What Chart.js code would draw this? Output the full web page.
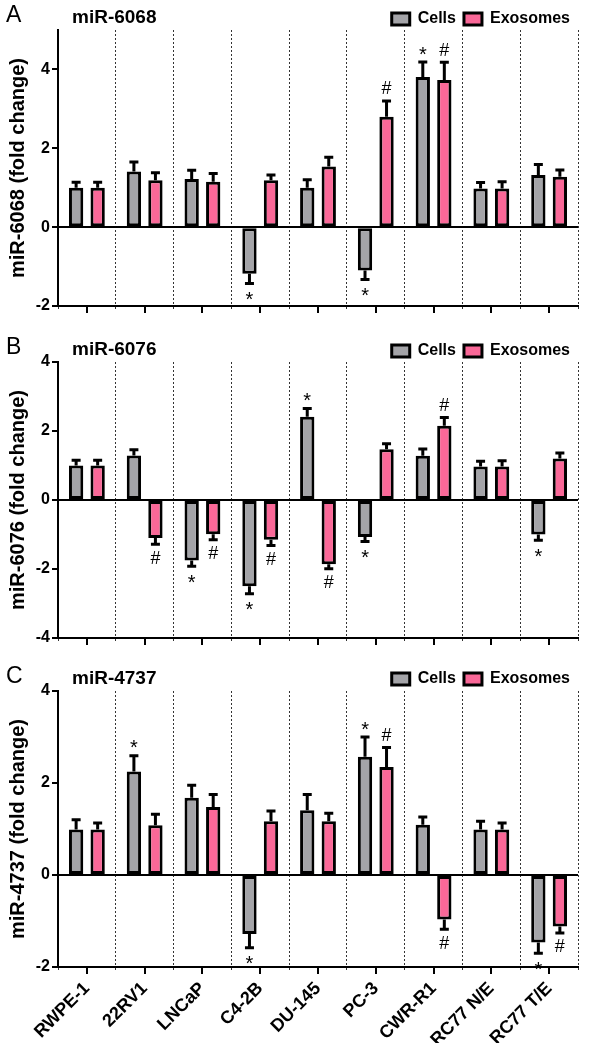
<!DOCTYPE html>
<html>
<head>
<meta charset="utf-8">
<script src="https://cdn.jsdelivr.net/npm/chart.js@4.4.1/dist/chart.umd.min.js"></script>
<style>
  body { margin: 0; background: #fff; }
  .panel { position: absolute; left: 0; width: 589px; }
</style>
</head>
<body>
<div class="panel" style="top:0;height:320px"><canvas id="chartA"></canvas></div>
<div class="panel" style="top:320px;height:330px"><canvas id="chartB"></canvas></div>
<div class="panel" style="top:650px;height:393px"><canvas id="chartC"></canvas></div>
<script>
var cellLines = ['RWPE-1', '22RV1', 'LNCaP', 'C4-2B', 'DU-145', 'PC-3', 'CWR-R1', 'RC77 N/E', 'RC77 T/E'];

// miR-6068
var cells6068 = [1.0, 1.41, 1.22, -1.18, 1.0, -1.10, 3.81, 0.98, 1.32];
var cells6068Err = [0.14, 0.24, 0.22, 0.25, 0.2, 0.23, 0.38, 0.15, 0.27];
var exo6068 = [1.0, 1.19, 1.15, 1.19, 1.54, 2.80, 3.73, 0.98, 1.28];
var exo6068Err = [0.14, 0.19, 0.21, 0.13, 0.23, 0.4, 0.45, 0.17, 0.17];
var cellMarks6068 = ['', '', '', '*', '', '*', '*', '', ''];
var exoMarks6068 = ['', '', '', '', '', '#', '#', '', ''];
var ticks6068 = [-2, 0, 2, 4];

// miR-6076
var cells6076 = [1.0, 1.29, -1.75, -2.50, 2.41, -1.07, 1.28, 0.97, -1.0];
var cells6076Err = [0.15, 0.17, 0.17, 0.22, 0.24, 0.13, 0.2, 0.15, 0.17];
var exo6076 = [1.0, -1.10, -0.99, -1.15, -1.86, 1.47, 2.15, 0.97, 1.2];
var exo6076Err = [0.15, 0.18, 0.16, 0.17, 0.13, 0.16, 0.24, 0.17, 0.16];
var cellMarks6076 = ['', '', '*', '*', '*', '*', '', '', '*'];
var exoMarks6076 = ['', '#', '#', '#', '#', '', '#', '', ''];
var ticks6076 = [-4, -2, 0, 2, 4];

// miR-4737
var cells4737 = [0.99, 2.25, 1.68, -1.28, 1.41, 2.57, 1.09, 0.99, -1.47];
var cells4737Err = [0.21, 0.34, 0.27, 0.30, 0.34, 0.43, 0.17, 0.18, 0.23];
var exo4737 = [0.99, 1.08, 1.48, 1.17, 1.17, 2.35, -0.97, 0.99, -1.12];
var exo4737Err = [0.14, 0.24, 0.27, 0.22, 0.17, 0.42, 0.21, 0.14, 0.14];
var cellMarks4737 = ['', '*', '', '*', '', '*', '', '', '*'];
var exoMarks4737 = ['', '', '', '', '', '#', '#', '', '#'];
var ticks4737 = [-2, 0, 2, 4];

var FONT = 'Liberation Sans, Arial, sans-serif';

// error bars, significance marks, centre ticks, panel letter and title
var extras = {
    id: 'extras',
    afterDatasetsDraw: function (chart) {
        var ctx = chart.ctx;
        var yScale = chart.scales.y;
        chart.data.datasets.forEach(function (ds, di) {
            var meta = chart.getDatasetMeta(di);
            meta.data.forEach(function (bar, i) {
                var v = ds.data[i];
                var dir = v < 0 ? -1 : 1;
                var end = yScale.getPixelForValue(v + dir * ds.errors[i]);
                ctx.save();
                ctx.strokeStyle = '#000';
                ctx.lineWidth = 3;
                ctx.beginPath();
                ctx.moveTo(bar.x, bar.y);
                ctx.lineTo(bar.x, end);
                ctx.moveTo(bar.x - 4.5, end);
                ctx.lineTo(bar.x + 4.5, end);
                ctx.stroke();
                var mark = ds.marks[i];
                if (mark) {
                    ctx.fillStyle = '#000';
                    ctx.textAlign = 'center';
                    ctx.textBaseline = 'alphabetic';
                    var size = mark === '*' ? 20 : 18;
                    ctx.font = size + 'px ' + FONT;
                    var c = dir > 0 ? end - 13 : end + (mark === '*' ? 11 : 13);
                    var base = mark === '*' ? c + 0.58 * size : c + 0.36 * size;
                    ctx.fillText(mark, bar.x, base);
                }
                ctx.restore();
            });
        });
    },
    afterDraw: function (chart) {
        var ctx = chart.ctx;
        var area = chart.chartArea;
        var xScale = chart.scales.x;
        ctx.save();
        ctx.strokeStyle = '#000';
        ctx.lineWidth = 2;
        ctx.beginPath();
        for (var i = 0; i < cellLines.length; i++) {
            var x = Math.round(xScale.getPixelForValue(i));
            ctx.moveTo(x, area.bottom);
            ctx.lineTo(x, area.bottom + 7);
        }
        ctx.stroke();
        var p = chart.options.plugins.panel;
        ctx.fillStyle = '#000';
        ctx.textBaseline = 'middle';
        ctx.textAlign = 'left';
        ctx.font = '23px ' + FONT;
        ctx.fillText(p.letter, 6, area.top - 14);
        ctx.font = 'bold 19px ' + FONT;
        ctx.fillText(p.title, 72, area.top - 12);
        ctx.restore();
    }
};

function makeChart(id, cells, cellsErr, cellMarks, exo, exoErr, exoMarks, yTicks, yMin, yMax, letter, title, opts) {
    var legendFit = {
        id: 'legendFit',
        beforeInit: function (chart) {
            var fit = chart.legend.fit;
            chart.legend.fit = function () {
                fit.call(this);
                this.height = opts.legendHeight;
            };
        }
    };
    return new Chart(id, {
        type: 'bar',
        data: {
            labels: cellLines,
            datasets: [{
                label: 'Cells',
                data: cells,
                errors: cellsErr,
                marks: cellMarks,
                backgroundColor: '#a4a4a8',
                borderColor: '#000',
                borderWidth: 3,
                borderSkipped: false
            }, {
                label: 'Exosomes',
                data: exo,
                errors: exoErr,
                marks: exoMarks,
                backgroundColor: '#fa6898',
                borderColor: '#000',
                borderWidth: 3,
                borderSkipped: false
            }]
        },
        options: {
            responsive: true,
            maintainAspectRatio: false,
            animation: false,
            datasets: { bar: { categoryPercentage: 0.745, barPercentage: 0.665 } },
            layout: { padding: { top: opts.padTop, right: 11, left: 0, bottom: 0 } },
            plugins: {
                legend: {
                    position: 'top',
                    align: 'end',
                    labels: {
                        boxWidth: 18,
                        boxHeight: 12,
                        padding: 8,
                        color: '#000',
                        font: { family: FONT, size: 16, weight: 'bold' }
                    }
                },
                tooltip: { enabled: false },
                panel: { letter: letter, title: title }
            },
            scales: {
                x: {
                    offset: true,
                    afterFit: function (axis) { axis.height = opts.xHeight; },
                    grid: {
                        offset: true,
                        color: '#333',
                        lineWidth: 1,
                        drawTicks: true,
                        tickLength: 4,
                        tickColor: '#333',
                        tickBorderDash: [2, 2]
                    },
                    border: { display: true, color: '#000', width: 2, dash: [2, 2] },
                    ticks: {
                        display: opts.showLabels,
                        color: '#000',
                        minRotation: 45,
                        maxRotation: 45,
                        autoSkip: false,
                        padding: 7,
                        font: { family: FONT, size: 18, weight: 'bold' }
                    }
                },
                y: {
                    min: yMin,
                    max: yMax,
                    afterFit: function (axis) { axis.width = 58; },
                    afterBuildTicks: function (axis) {
                        axis.ticks = yTicks.map(function (v) { return { value: v }; });
                    },
                    grid: {
                        color: function (c) { return c.tick && c.tick.value === 0 ? '#000' : 'rgba(0,0,0,0)'; },
                        lineWidth: 2,
                        drawTicks: true,
                        tickLength: 6,
                        tickColor: '#000',
                        tickWidth: 2
                    },
                    border: { display: true, color: '#000', width: 2 },
                    ticks: {
                        color: '#000',
                        padding: 2,
                        font: { family: FONT, size: 16, weight: 'bold' }
                    },
                    title: {
                        display: true,
                        text: title + ' (fold change)',
                        color: '#000',
                        padding: { top: 6, bottom: 0 },
                        font: { family: FONT, size: 20, weight: 'bold' }
                    }
                }
            }
        },
        plugins: [legendFit, extras]
    });
}

makeChart('chartA', cells6068, cells6068Err, cellMarks6068, exo6068, exo6068Err, exoMarks6068,
    ticks6068, -2, 5, 'A', 'miR-6068', { padTop: 3, legendHeight: 27, xHeight: 14, showLabels: false });
makeChart('chartB', cells6076, cells6076Err, cellMarks6076, exo6076, exo6076Err, exoMarks6076,
    ticks6076, -4, 4, 'B', 'miR-6076', { padTop: 15, legendHeight: 27, xHeight: 12, showLabels: false });
makeChart('chartC', cells4737, cells4737Err, cellMarks4737, exo4737, exo4737Err, exoMarks4737,
    ticks4737, -2, 4, 'C', 'miR-4737', { padTop: 13, legendHeight: 28, xHeight: 76, showLabels: true });
</script>
</body>
</html>
